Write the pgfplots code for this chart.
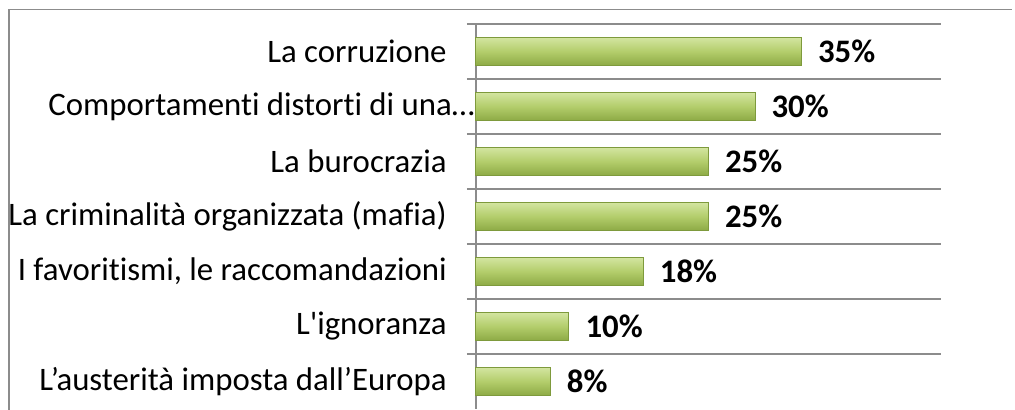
\documentclass[border=0pt]{standalone}
\usepackage{fontspec}
\usepackage{pgfplots}
\pgfplotsset{compat=1.18}
\newfontfamily\carlito{Carlito}[Ligatures=NoCommon]
\definecolor{barTop}{HTML}{D3E5A0}
\definecolor{barMid}{HTML}{B3CD6B}
\definecolor{barBot}{HTML}{8DAA45}
\definecolor{barEdge}{HTML}{7E9A3C}
\definecolor{axisgray}{HTML}{8C8C8C}
\begin{document}
\carlito
\begin{tikzpicture}
\useasboundingbox (-238pt,-0.5pt) rectangle (269.5pt,204.5pt);
\draw[axisgray, line width=0.75pt] (-233.5pt,-3pt) -- (-233.5pt,199.75pt) -- (268pt,199.75pt);
\begin{axis}[
  at={(0,0)}, anchor=south west,
  scale only axis, width=232.5pt, height=192.5pt,
  xbar, bar width=14pt, bar shift=0pt,
  xmin=0, xmax=50, ymin=-0.5, ymax=6.5,
  axis x line=none, axis y line*=left,
  y axis line style={axisgray, line width=0.75pt, -},
  ytick={0,...,6},
  yticklabels={L’austerità imposta dall’Europa, L'ignoranza, {I favoritismi, le raccomandazioni}, La criminalità organizzata (mafia), La burocrazia, {Comportamenti distorti di una…\kern-14pt}, La corruzione},
  minor ytick={0.5,1.5,...,6.5},
  yminorgrids=true,
  ymajorgrids=false,
  minor grid style={axisgray, line width=0.75pt},
  tick align=outside,
  major tick length=0pt,
  minor tick length=4.5pt,
  tick style={axisgray, line width=0.75pt},
  yticklabel style={font=\fontsize{16.4}{19}\selectfont, anchor=east, inner sep=0pt, xshift=-14.5pt},
  /pgf/number format/assume math mode=true,
  nodes near coords={\pgfmathprintnumber{\pgfplotspointmeta}\%},
  nodes near coords style={anchor=west, inner sep=0pt, xshift=8pt, font=\bfseries\fontsize{16.4}{19}\selectfont, text=black},
  clip=false,
  barstyle/.style={draw=barEdge, line width=0.5pt, top color=barTop, bottom color=barBot, middle color=barMid},
]
\addplot[barstyle] coordinates {(8,0)};
\addplot[barstyle] coordinates {(10,1)};
\addplot[barstyle] coordinates {(18,2)};
\addplot[barstyle] coordinates {(25,3)};
\addplot[barstyle] coordinates {(25,4)};
\addplot[barstyle] coordinates {(30,5)};
\addplot[barstyle] coordinates {(35,6)};
\end{axis}
\end{tikzpicture}
\end{document}
